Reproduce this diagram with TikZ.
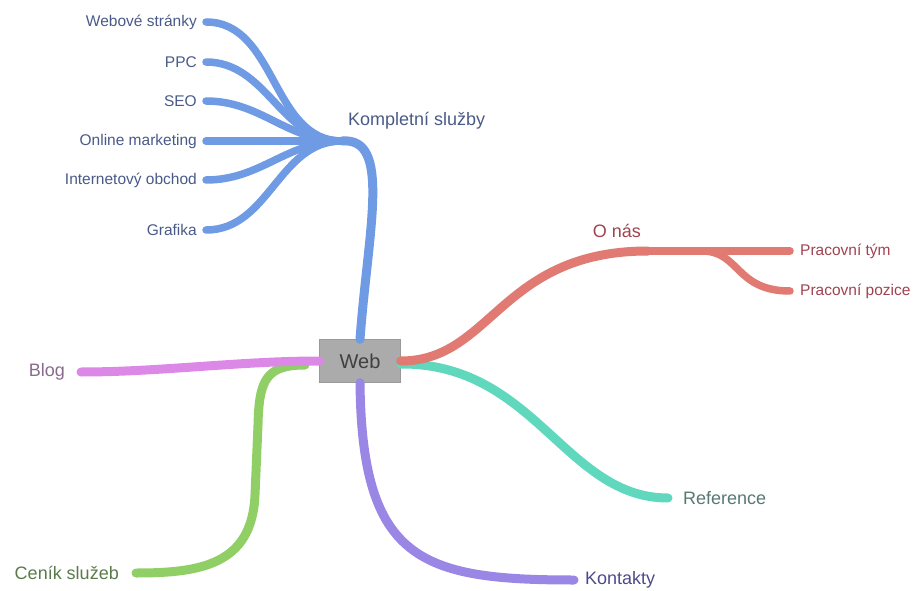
\documentclass[tikz,border=0pt]{standalone}
\usepackage{fontspec}
\setmainfont{Liberation Sans}
\definecolor{bluebr}{HTML}{6F9AE4}
\definecolor{redbr}{HTML}{E07A72}
\definecolor{tealbr}{HTML}{5FD8BE}
\definecolor{purplebr}{HTML}{9A86E4}
\definecolor{greenbr}{HTML}{8FCF66}
\definecolor{pinkbr}{HTML}{DC88E6}
\definecolor{bluetxt}{HTML}{4A5A88}
\definecolor{redtxt}{HTML}{A0424F}
\definecolor{tealtxt}{HTML}{587872}
\definecolor{purpletxt}{HTML}{4E4A8A}
\definecolor{greentxt}{HTML}{5A7A4C}
\definecolor{pinktxt}{HTML}{8A6A8C}

\begin{document}
\begin{tikzpicture}[x=1pt,y=-1pt,
    branch/.style={line width=9pt,line cap=round},
    subbranch/.style={line width=7.5pt,line cap=round},
    mainlabel/.style={inner sep=0pt,font=\fontsize{18}{20}\selectfont},
    sublabel/.style={inner sep=0pt,font=\fontsize{15.5}{18}\selectfont}]
    \useasboundingbox (0,0) rectangle (919,591);
    % central topic
    \node[fill=black!33,draw=black!40,minimum width=81pt,minimum height=43pt,
      font=\fontsize{20}{22}\selectfont,text=black!75] (web) at (360,361) {Web};
    % Kompletni sluzby
    \coordinate (kompl-j) at (342,141);
    \node[mainlabel,text=bluetxt,anchor=west] (kompl) at (348,121) {Kompletní služby};
    \draw[branch,bluebr] (web.north) .. controls (368,230) and (392,137) .. (kompl-j);
    \foreach \name/\y/\txt in {webst/22/Webové stránky, ppc/62/PPC, seo/101/SEO,
        online/141/Online marketing, obchod/180/Internetový obchod, grafika/230/Grafika} {
      \coordinate (\name-end) at (206,\y);
      \node[sublabel,text=bluetxt,anchor=east] (\name) at (197,\y) {\txt};
      \draw[subbranch,bluebr] (kompl-j) to[out=180,in=0] (\name-end);
    }
    % O nas
    \coordinate (onas-j) at (648,251);
    \coordinate (tym-end) at (790,251);
    \coordinate (pozice-end) at (790,291);
    \coordinate (pozice-j) at (702,251);
    \node[mainlabel,text=redtxt] (onas) at (617,231) {O nás};
    \node[sublabel,text=redtxt,anchor=west] (tym) at (800,251) {Pracovní tým};
    \node[sublabel,text=redtxt,anchor=west] (pozice) at (800,291) {Pracovní pozice};
    % Reference
    \coordinate (ref-end) at (668,498);
    \node[mainlabel,text=tealtxt,anchor=west] (ref) at (683,498) {Reference};
    \draw[branch,tealbr] ([yshift=-3pt]web.east) .. controls (535,363) and (565,498) .. (ref-end);
    \draw[branch,redbr] (web.east) .. controls (492,361) and (500,251) .. (onas-j);
    \draw[subbranch,redbr] (onas-j) -- (tym-end);
    \draw[subbranch,redbr] (pozice-j) .. controls (740,251) and (735,291) .. (pozice-end);
    % Kontakty
    \coordinate (kont-end) at (574,580);
    \node[mainlabel,text=purpletxt,anchor=west] (kont) at (585,580) {Kontakty};
    \draw[branch,purplebr] (web.south) .. controls (362,560) and (420,580) .. (kont-end);
    % Cenik sluzeb
    \coordinate (cenik-start) at (305,365);
    \coordinate (cenik-end) at (136,573);
    \node[mainlabel,text=greentxt,anchor=east] (cenik) at (119,573) {Ceník služeb};
    \draw[branch,greenbr] (cenik-start) .. controls (266,365) and (259,380) .. (258,425)
      -- (255,495) .. controls (252,565) and (200,573) .. (cenik-end);
    % Blog
    \coordinate (blog-end) at (81,372);
    \node[mainlabel,text=pinktxt,anchor=east] (blog) at (65,372) {Blog};
    \draw[branch,pinkbr] (web.west) .. controls (240,361) and (160,372) .. (blog-end);
\end{tikzpicture}
\end{document}
